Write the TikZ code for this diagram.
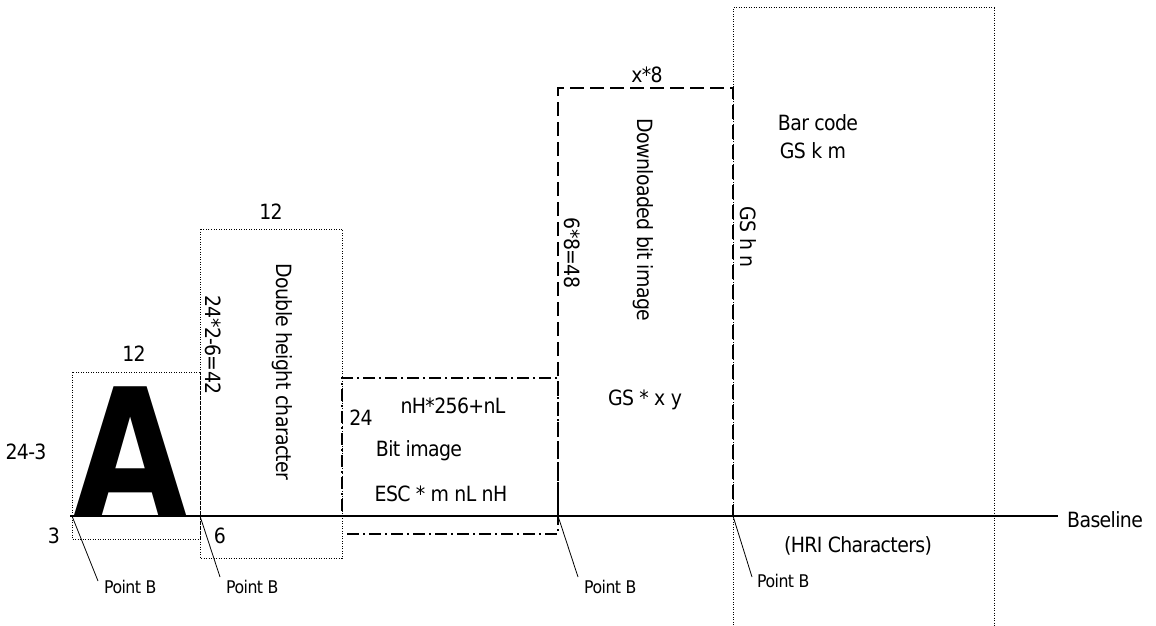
\documentclass[tikz,border=0pt]{standalone}
\usepackage{fontspec}
\setmainfont{DejaVu Sans Condensed}[LetterSpace=-3]
\begin{document}
\begin{tikzpicture}[x=1pt,y=-1pt,
  lbl/.style={inner sep=0pt,font=\fontsize{21}{24}\selectfont},
  small/.style={inner sep=0pt,font=\fontsize{17.5}{19}\selectfont},
  dotbox/.style={line width=1pt,dash pattern=on 1pt off 1.5pt},
  dashdotbox/.style={line width=1.2pt,dash pattern=on 12pt off 4pt on 2pt off 4pt},
  dashbox/.style={line width=1.2pt,dash pattern=on 14pt off 6pt},
  lead/.style={line width=0.8pt}]
\useasboundingbox (0,0) rectangle (1156,626);
% coordinates on the baseline
\coordinate (b0) at (70,516);
\coordinate (bend) at (1058,516);
\coordinate (p1) at (72,516);
\coordinate (p2) at (200,516);
\coordinate (p3) at (558,516);
\coordinate (p4) at (733,516);
% boxes
\draw[dotbox] (72,372) rectangle (200,539);
\draw[dotbox] (200,229) rectangle (342,558);
\draw[dashdotbox] (347,534) -- (558,534) -- (558,378) -- (342,378) -- (342,516);
\draw[dashbox] (558,516) |- (733,88) -- (733,516);
\draw[dotbox] (733,630) |- (994,8) -- (994,630);
% baseline
\draw[line width=1.5pt] (b0) -- (bend);
\node[lbl,anchor=west] (base) at (1067,520) {Baseline};
% A character
\node[inner sep=0pt,anchor=base,font=\fontsize{178}{180}\selectfont\bfseries] (bigA) at (131,516) {\scalebox{0.92}[1]{A}};
% labels of box A
\node[lbl] (a12) at (134,354) {12};
\node[lbl] (a243) at (26,452) {24-3};
\node[lbl] (a3) at (54,536) {3};
% double height
\node[lbl] (d12) at (271,212) {12};
\node[lbl,rotate=-90] (d42) at (213,345) {24*2-6=42};
\node[lbl,rotate=-90] (dtxt) at (282,372) {Double height character};
\node[lbl] (d6) at (220,536) {6};
% bit image
\node[lbl] (b24) at (361,418) {24};
\node[lbl] (bn) at (453,406) {nH*256+nL};
\node[lbl] (bt) at (419,451) {Bit image};
\node[lbl] (be) at (441,494) {ESC * m nL nH};
% downloaded
\node[lbl] (x8) at (647,75) {x*8};
\node[lbl,rotate=-90] (d48) at (572,253) {6*8=48};
\node[lbl,rotate=-90] (dl) at (643,220) {Downloaded bit image};
\node[lbl] (gsx) at (645,400) {GS * x y};
% bar code
\node[lbl,rotate=-90] (gsh) at (748,237) {GS h n};
\node[lbl] (bc) at (818,123) {Bar code};
\node[lbl] (gsk) at (813,151) {GS k m};
\node[lbl] (hri) at (858,546) {(HRI Characters)};
% point B labels
\node[small,anchor=west] (pb1) at (104,587) {Point B};
\node[small,anchor=west] (pb2) at (226,587) {Point B};
\node[small,anchor=west] (pb3) at (584,587) {Point B};
\node[small,anchor=west] (pb4) at (757,581) {Point B};
\draw[lead] (p1) -- (98,581);
\draw[lead] (p2) -- (220,577);
\draw[lead] (p3) -- (578,577);
\draw[lead] (p4) -- (752,577);
\end{tikzpicture}
\end{document}
